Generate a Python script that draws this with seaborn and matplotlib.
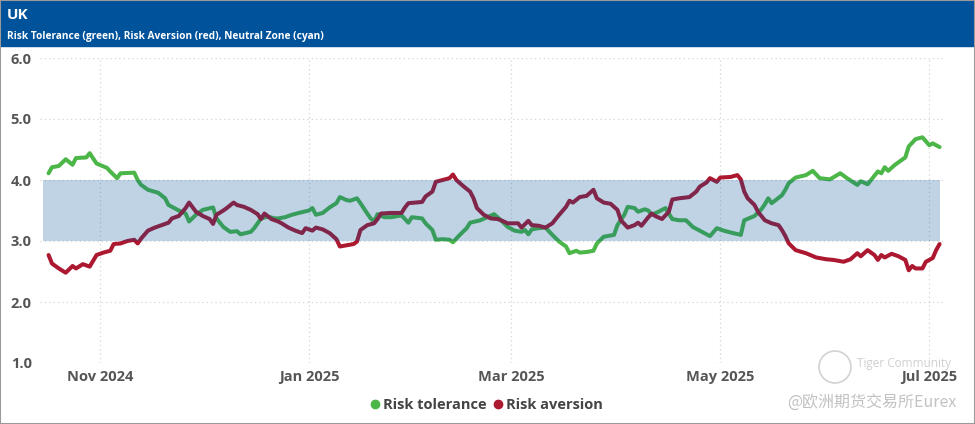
import pandas as pd
import matplotlib.pyplot as plt
import seaborn as sns
from matplotlib.lines import Line2D
from matplotlib.patches import Rectangle, Circle
from matplotlib.transforms import IdentityTransform

# values
tol_dates = [
    "2024-10-17", "2024-10-18", "2024-10-20", "2024-10-22", "2024-10-24", "2024-10-25", "2024-10-28", "2024-10-29", "2024-10-31",
    "2024-11-03", "2024-11-04", "2024-11-06", "2024-11-07", "2024-11-11", "2024-11-12", "2024-11-13", "2024-11-15",
    "2024-11-18", "2024-11-20", "2024-11-21", "2024-11-24", "2024-11-26", "2024-11-27", "2024-11-29",
    "2024-12-01", "2024-12-04", "2024-12-05", "2024-12-07", "2024-12-09", "2024-12-11", "2024-12-12", "2024-12-15",
    "2024-12-16", "2024-12-18", "2024-12-20", "2024-12-22", "2024-12-23", "2024-12-25", "2024-12-27", "2024-12-29",
    "2025-01-01", "2025-01-02", "2025-01-03", "2025-01-05", "2025-01-07", "2025-01-09", "2025-01-10", "2025-01-12",
    "2025-01-13", "2025-01-15", "2025-01-16", "2025-01-18", "2025-01-19", "2025-01-20", "2025-01-21", "2025-01-23",
    "2025-01-25", "2025-01-28", "2025-01-30", "2025-01-31",
    "2025-02-03", "2025-02-04", "2025-02-06", "2025-02-07", "2025-02-09", "2025-02-11", "2025-02-12", "2025-02-14",
    "2025-02-16", "2025-02-17", "2025-02-20", "2025-02-22", "2025-02-24", "2025-02-26", "2025-02-28",
    "2025-03-02", "2025-03-04", "2025-03-05", "2025-03-06", "2025-03-07", "2025-03-09", "2025-03-11", "2025-03-13",
    "2025-03-15", "2025-03-17", "2025-03-18", "2025-03-20", "2025-03-21", "2025-03-23", "2025-03-25", "2025-03-26",
    "2025-03-28", "2025-03-31",
    "2025-04-01", "2025-04-03", "2025-04-04", "2025-04-06", "2025-04-07", "2025-04-09", "2025-04-10", "2025-04-11",
    "2025-04-13", "2025-04-15", "2025-04-17", "2025-04-19", "2025-04-21", "2025-04-23", "2025-04-26", "2025-04-28", "2025-04-30",
    "2025-05-02", "2025-05-04", "2025-05-07", "2025-05-08", "2025-05-11", "2025-05-13", "2025-05-14", "2025-05-15",
    "2025-05-16", "2025-05-19", "2025-05-20", "2025-05-21", "2025-05-23", "2025-05-26", "2025-05-28", "2025-05-30",
    "2025-06-02", "2025-06-05", "2025-06-07", "2025-06-10", "2025-06-11", "2025-06-13", "2025-06-16", "2025-06-17",
    "2025-06-18", "2025-06-19", "2025-06-21", "2025-06-24", "2025-06-25", "2025-06-27", "2025-06-29", "2025-07-01",
    "2025-07-02", "2025-07-04",
]
tol_values = [
    4.11, 4.21, 4.23, 4.34, 4.25, 4.36, 4.37, 4.44, 4.27,
    4.20, 4.14, 4.03, 4.11, 4.12, 4.00, 3.92, 3.84, 3.79, 3.70, 3.59, 3.50, 3.45, 3.32, 3.43,
    3.51, 3.55, 3.37, 3.23, 3.15, 3.16, 3.11, 3.15, 3.21, 3.37, 3.40, 3.37, 3.37, 3.39, 3.43, 3.46,
    3.50, 3.54, 3.43, 3.46, 3.55, 3.62, 3.72, 3.67, 3.66, 3.70, 3.62, 3.45, 3.37, 3.32, 3.44, 3.39,
    3.39, 3.42, 3.30, 3.39,
    3.37, 3.29, 3.18, 3.02, 3.03, 3.02, 2.98, 3.10, 3.21, 3.30, 3.34, 3.39, 3.44, 3.34, 3.23,
    3.17, 3.15, 3.18, 3.11, 3.19, 3.21, 3.22, 3.10, 2.99, 2.91, 2.80, 2.84, 2.81, 2.82, 2.84, 2.96,
    3.07, 3.10,
    3.26, 3.43, 3.56, 3.54, 3.48, 3.52, 3.50, 3.43, 3.48, 3.54, 3.36, 3.34, 3.34, 3.23, 3.14, 3.08, 3.21,
    3.17, 3.14, 3.10, 3.34, 3.41, 3.52, 3.60, 3.70, 3.62, 3.75, 3.84, 3.95, 4.04, 4.08, 4.15, 4.03,
    4.01, 4.11, 4.03, 3.92, 3.98, 3.93, 4.14, 4.11, 4.21, 4.15, 4.25, 4.37, 4.55, 4.67, 4.70, 4.57,
    4.60, 4.54,
]

avr_dates = [
    "2024-10-17", "2024-10-18", "2024-10-20", "2024-10-22", "2024-10-24", "2024-10-25", "2024-10-27", "2024-10-29", "2024-10-31",
    "2024-11-02", "2024-11-04", "2024-11-05", "2024-11-07", "2024-11-09", "2024-11-11", "2024-11-12", "2024-11-13",
    "2024-11-15", "2024-11-17", "2024-11-19", "2024-11-21", "2024-11-22", "2024-11-24", "2024-11-26", "2024-11-27", "2024-11-29",
    "2024-12-01", "2024-12-03", "2024-12-04", "2024-12-05", "2024-12-07", "2024-12-08", "2024-12-10", "2024-12-11",
    "2024-12-13", "2024-12-15", "2024-12-17", "2024-12-18", "2024-12-19", "2024-12-21", "2024-12-23", "2024-12-24",
    "2024-12-26", "2024-12-28", "2024-12-30", "2024-12-31",
    "2025-01-02", "2025-01-03", "2025-01-05", "2025-01-07", "2025-01-09", "2025-01-10", "2025-01-12", "2025-01-14",
    "2025-01-15", "2025-01-16", "2025-01-18", "2025-01-20", "2025-01-21", "2025-01-22", "2025-01-25", "2025-01-28",
    "2025-01-29", "2025-01-30",
    "2025-02-01", "2025-02-03", "2025-02-04", "2025-02-06", "2025-02-07", "2025-02-09", "2025-02-11", "2025-02-12",
    "2025-02-13", "2025-02-15", "2025-02-17", "2025-02-18", "2025-02-19", "2025-02-21", "2025-02-23", "2025-02-25",
    "2025-02-26", "2025-02-28",
    "2025-03-02", "2025-03-03", "2025-03-04", "2025-03-06", "2025-03-07", "2025-03-09", "2025-03-11", "2025-03-13",
    "2025-03-15", "2025-03-17", "2025-03-18", "2025-03-19", "2025-03-21", "2025-03-23", "2025-03-25", "2025-03-26",
    "2025-03-28", "2025-03-30",
    "2025-04-01", "2025-04-02", "2025-04-04", "2025-04-06", "2025-04-07", "2025-04-08", "2025-04-10", "2025-04-11",
    "2025-04-12", "2025-04-14", "2025-04-16", "2025-04-17", "2025-04-19", "2025-04-22", "2025-04-24", "2025-04-25",
    "2025-04-27", "2025-04-28", "2025-04-30",
    "2025-05-01", "2025-05-04", "2025-05-06", "2025-05-07", "2025-05-08", "2025-05-09", "2025-05-11", "2025-05-12",
    "2025-05-14", "2025-05-16", "2025-05-18", "2025-05-19", "2025-05-20", "2025-05-21", "2025-05-23", "2025-05-26", "2025-05-29",
    "2025-06-01", "2025-06-03", "2025-06-06", "2025-06-08", "2025-06-10", "2025-06-11", "2025-06-13", "2025-06-15",
    "2025-06-16", "2025-06-17", "2025-06-18", "2025-06-20", "2025-06-22", "2025-06-24", "2025-06-25", "2025-06-26",
    "2025-06-27", "2025-06-29", "2025-06-30", "2025-07-02", "2025-07-03", "2025-07-04",
]
avr_values = [
    2.77, 2.63, 2.55, 2.48, 2.59, 2.55, 2.62, 2.58, 2.77,
    2.81, 2.84, 2.95, 2.96, 3.00, 3.02, 2.96, 3.04, 3.17, 3.22, 3.26, 3.30, 3.37, 3.41, 3.54, 3.63, 3.48,
    3.41, 3.36, 3.28, 3.43, 3.50, 3.54, 3.63, 3.59, 3.56, 3.51, 3.44, 3.36, 3.45, 3.36, 3.32, 3.29,
    3.22, 3.17, 3.13, 3.21,
    3.17, 3.22, 3.19, 3.13, 3.03, 2.91, 2.93, 2.95, 2.99, 3.18, 3.26, 3.29, 3.36, 3.45, 3.46, 3.46,
    3.55, 3.62,
    3.63, 3.64, 3.73, 3.81, 3.97, 4.00, 4.03, 4.09, 4.00, 3.90, 3.81, 3.70, 3.54, 3.43, 3.37, 3.36,
    3.34, 3.29,
    3.29, 3.29, 3.22, 3.33, 3.26, 3.25, 3.22, 3.29, 3.43, 3.56, 3.66, 3.63, 3.72, 3.74, 3.84, 3.70,
    3.63, 3.61,
    3.51, 3.34, 3.22, 3.26, 3.30, 3.25, 3.39, 3.45, 3.41, 3.36, 3.48, 3.68, 3.70, 3.72, 3.81, 3.89,
    3.96, 4.03, 3.97,
    4.04, 4.05, 4.08, 4.01, 3.81, 3.70, 3.59, 3.48, 3.34, 3.29, 3.26, 3.18, 3.08, 2.96, 2.85, 2.80, 2.73,
    2.70, 2.69, 2.66, 2.70, 2.80, 2.75, 2.85, 2.77, 2.69, 2.77, 2.73, 2.79, 2.75, 2.69, 2.52, 2.59,
    2.55, 2.55, 2.66, 2.72, 2.85, 2.95,
]

zone_low, zone_high = 3.0, 4.0
tick_dates = ["2024-11-01", "2025-01-01", "2025-03-01", "2025-05-01", "2025-07-01"]
y_ticks = [1.0, 2.0, 3.0, 4.0, 5.0, 6.0]

GREEN = "#4CB648"
RED = "#AC1830"
HEADER = "#00529B"
TICK = "#555555"

sns.set_style("white")
plt.rcParams["font.family"] = ["Open Sans", "DejaVu Sans"]

tol = pd.DataFrame({"date": pd.to_datetime(tol_dates), "value": tol_values})
avr = pd.DataFrame({"date": pd.to_datetime(avr_dates), "value": avr_values})

W, H = 975, 424
fig = plt.figure(figsize=(W / 100, H / 100), dpi=100, facecolor="white")
ax = fig.add_axes([40 / W, 1 - 363 / H, 905 / W, 305 / H])

sns.lineplot(data=tol, x="date", y="value", color=GREEN, linewidth=2.9, ax=ax, zorder=2)
sns.lineplot(data=avr, x="date", y="value", color=RED, linewidth=2.9, ax=ax, zorder=2)

# neutral zone sits on top of the lines, tinting them where they cross it
zone_x = [tol["date"].min() - pd.Timedelta(hours=36), tol["date"].max()]
ax.fill_between(zone_x, zone_low, zone_high, color=HEADER, alpha=0.25, linewidth=0, zorder=3)

ax.set_ylim(1, 6)
ax.set_xlim(pd.Timestamp("2024-10-14 12:00"), pd.Timestamp("2025-07-05 14:00"))
ticks = pd.to_datetime(tick_dates)
ax.set_xticks(ticks)
ax.set_xticklabels([t.strftime("%b %Y") for t in ticks])
ax.set_yticks(y_ticks)
ax.set_yticklabels([f"{v:.1f}" for v in y_ticks])
ax.tick_params(axis="both", length=0, labelsize=10.5, labelcolor=TICK)
ax.tick_params(axis="x", pad=5)
ax.tick_params(axis="y", pad=6)
for lab in ax.get_xticklabels() + ax.get_yticklabels():
    lab.set_fontweight("bold")
ax.set_xlabel("")
ax.set_ylabel("")
ax.grid(True, linestyle=(0, (1, 2.5)), color="#d4d4d4", linewidth=0.9)
ax.set_axisbelow(True)
for s in ax.spines.values():
    s.set_visible(False)

# header bar
fig.add_artist(Rectangle((0, 1 - 46 / H), 1, 46 / H, transform=fig.transFigure,
                         color=HEADER, zorder=0))
fig.text(7 / W, 1 - 15 / H, "UK", color="white", fontsize=11, fontweight="bold", va="center")
fig.text(7 / W, 1 - 36 / H, "Risk Tolerance (green), Risk Aversion (red), Neutral Zone (cyan)",
         color="white", fontsize=7.3, fontweight="bold", va="center")

handles = [
    Line2D([], [], linestyle="none", marker="o", markersize=6, color=GREEN, label="Risk tolerance"),
    Line2D([], [], linestyle="none", marker="o", markersize=6, color=RED, label="Risk aversion"),
]
fig.legend(handles=handles, loc="center", bbox_to_anchor=(487 / W, 1 - 405 / H), ncol=2,
           frameon=False, handlelength=0.6, handletextpad=0.25, columnspacing=0.5,
           prop={"weight": "bold", "size": 10.5}, labelcolor="#444444")

# watermark
fig.add_artist(Circle((835, H - 367), 16, transform=IdentityTransform(), fill=False,
                      edgecolor="#d2d2d2", linewidth=1.2))
fig.text(857 / W, 1 - 364 / H, "Tiger Community", color="#d0d0d0", fontsize=8.5, va="center")
fig.text(956 / W, 1 - 402 / H, "@欧洲期货交易所Eurex", color="#c2c2c2", fontsize=11.5,
         ha="right", va="center", family=["Noto Sans CJK SC", "DejaVu Sans"])

# outer frame
fig.add_artist(Rectangle((0, 0), 1, 1, transform=fig.transFigure, fill=False,
                         edgecolor="#9a9a9a", linewidth=1.5))

fig.savefig("out.png", dpi=100)
